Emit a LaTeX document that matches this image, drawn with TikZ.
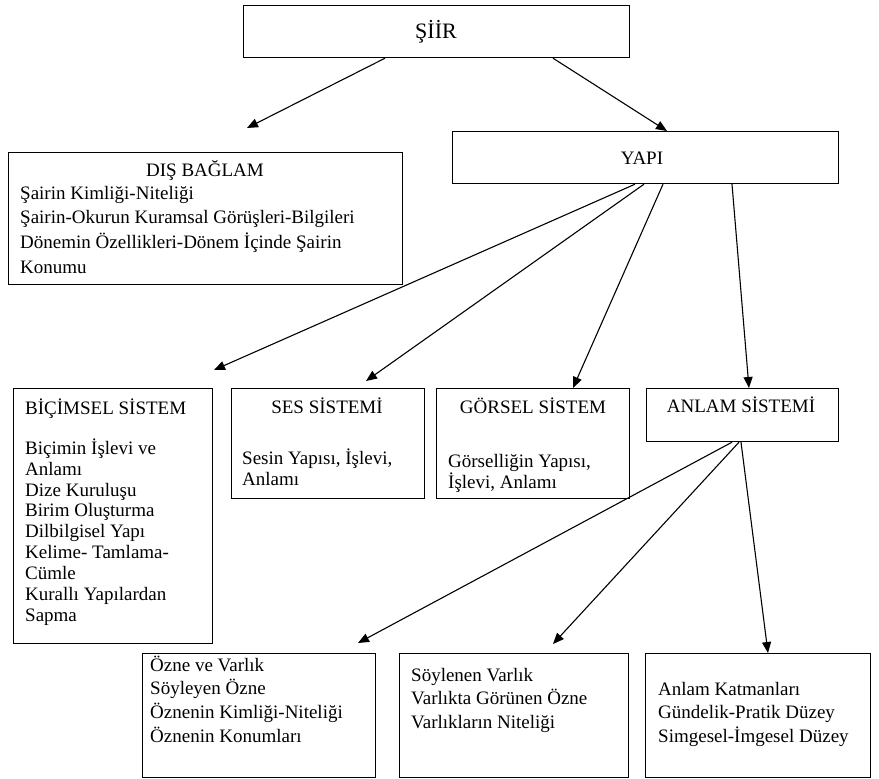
\documentclass[tikz,border=0pt]{standalone}
\usepackage{fontspec}
\setmainfont{Liberation Serif}
\usetikzlibrary{arrows.meta}
\newcommand\fstrut{\rule{0pt}{18pt}}
\begin{document}
\begin{tikzpicture}[x=1pt,y=-1pt,
  box/.style 2 args={draw, line width=1.2pt, anchor=north west, inner sep=0pt,
    minimum width=#1pt, minimum height=#2pt},
  ttl/.style={inner sep=0pt, anchor=base, font=\fontsize{19}{21}\selectfont},
  bodyA/.style={inner sep=0pt, anchor=north west, align=left, font=\fontsize{19}{20.9}\selectfont},
  bodyB/.style={inner sep=0pt, anchor=north west, align=left, font=\fontsize{19}{24.6}\selectfont},
  bodyC/.style={inner sep=0pt, anchor=north west, align=left, font=\fontsize{19}{23.6}\selectfont},
  arr/.style={-{Triangle[length=11pt,width=9pt]}, line width=1.1pt}]
\useasboundingbox (0,0) rectangle (879,779);
% boxes
\node[box={386}{52}] (siir) at (243,5) {};
\node[box={386}{52}] (yapi) at (452,131) {};
\node[box={394}{132}] (dis) at (8,152) {};
\node[box={199}{255}] (bic) at (13,388) {};
\node[box={193}{110}] (ses) at (231,388) {};
\node[box={193}{110}] (gor) at (436,388) {};
\node[box={192}{53}] (anl) at (646,388) {};
\node[box={233}{124}] (b1) at (142,653) {};
\node[box={229}{124}] (b2) at (399,653) {};
\node[box={225}{124}] (b3) at (645,653) {};
% texts
\node[ttl, font=\fontsize{22}{24}\selectfont] (tsiir) at (436,38) {ŞİİR};
\node[ttl] (tyapi) at (642,164) {YAPI};
\node[ttl] (tdis) at (205,176) {DIŞ BAĞLAM};
\node[bodyB] (bdis) at (20,181) {\fstrut Şairin Kimliği-Niteliği\\Şairin-Okurun Kuramsal Görüşleri-Bilgileri\\Dönemin Özellikleri-Dönem İçinde Şairin\\Konumu};
\node[ttl, anchor=base west] (tbic) at (25,414) {BİÇİMSEL SİSTEM};
\node[bodyA] (bbic) at (25,436) {\fstrut Biçimin İşlevi ve\\Anlamı\\Dize Kuruluşu\\Birim Oluşturma\\Dilbilgisel Yapı\\Kelime- Tamlama-\\Cümle\\Kurallı Yapılardan\\Sapma};
\node[ttl] (tses) at (327,413) {SES SİSTEMİ};
\node[bodyA] (bses) at (242,446) {\fstrut Sesin Yapısı, İşlevi,\\Anlamı};
\node[ttl] (tgor) at (533,413) {GÖRSEL SİSTEM};
\node[bodyA] (bgor) at (448,449) {\fstrut Görselliğin Yapısı,\\İşlevi, Anlamı};
\node[ttl] (tanl) at (741,412) {ANLAM SİSTEMİ};
\node[bodyC] (bb1) at (150,653) {\fstrut Özne ve Varlık\\Söyleyen Özne\\Öznenin Kimliği-Niteliği\\Öznenin Konumları};
\node[bodyC] (bb2) at (411,663) {\fstrut Söylenen Varlık\\Varlıkta Görünen Özne\\Varlıkların Niteliği};
\node[bodyC] (bb3) at (658,677) {\fstrut Anlam Katmanları\\Gündelik-Pratik Düzey\\Simgesel-İmgesel Düzey};
% free arrow ends
\coordinate (edis) at (247,128);
\coordinate (ebic) at (214,370);
\coordinate (eses) at (366,381);
\coordinate (eb1) at (358,643);
\coordinate (eb2) at (553,644);
% connectors
\draw[arr] ([xshift=142pt]siir.south west) -- (edis);
\draw[arr] ([xshift=310pt]siir.south west) -- ([xshift=215pt]yapi.north west);
\draw[arr] ([xshift=183pt]yapi.south west) -- (ebic);
\draw[arr] ([xshift=192pt]yapi.south west) -- (eses);
\draw[arr] ([xshift=211pt]yapi.south west) -- ([xshift=137pt]gor.north west);
\draw[arr] ([xshift=280pt]yapi.south west) -- ([xshift=103pt]anl.north west);
\draw[arr] ([xshift=86pt]anl.south west) -- (eb1);
\draw[arr] ([xshift=93pt]anl.south west) -- (eb2);
\draw[arr] ([xshift=95pt]anl.south west) -- ([xshift=123pt]b3.north west);
\end{tikzpicture}
\end{document}
